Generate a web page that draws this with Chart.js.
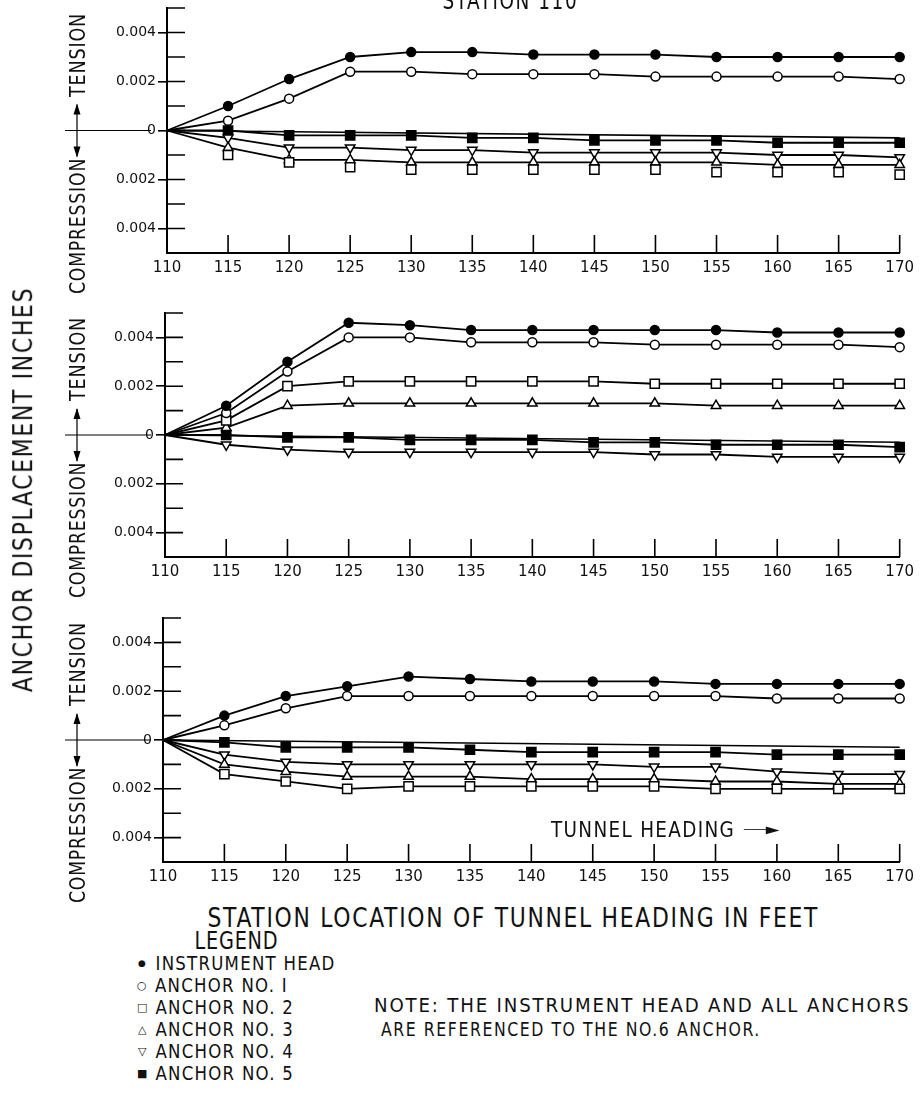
<!DOCTYPE html>
<html>
<head>
<meta charset="utf-8">
<script src="https://cdn.jsdelivr.net/npm/chart.js@4.4.0/dist/chart.umd.min.js"></script>
<style>
  body { margin: 0; background: #fff; width: 920px; height: 1103px; position: relative; overflow: hidden;
         font-family: "DejaVu Sans", sans-serif; color: #111; }
  canvas { position: absolute; left: 0; }
  .t { position: absolute; white-space: nowrap; line-height: 1; }
</style>
</head>
<body>
<script>
// stations along the tunnel (feet)
const stations = [110, 115, 120, 125, 130, 135, 140, 145, 150, 155, 160, 165, 170];

// panel 1
const head1 = [0, 0.0010, 0.0021, 0.0030, 0.0032, 0.0032, 0.0031, 0.0031, 0.0031, 0.0030, 0.0030, 0.0030, 0.0030];
const anc1_1 = [0, 0.0004, 0.0013, 0.0024, 0.0024, 0.0023, 0.0023, 0.0023, 0.0022, 0.0022, 0.0022, 0.0022, 0.0021];
const anc2_1 = [0, -0.0010, -0.0013, -0.0015, -0.0016, -0.0016, -0.0016, -0.0016, -0.0016, -0.0017, -0.0017, -0.0017, -0.0018];
const anc3_1 = [0, -0.0007, -0.0012, -0.0012, -0.0013, -0.0013, -0.0013, -0.0013, -0.0013, -0.0013, -0.0014, -0.0014, -0.0014];
const anc4_1 = [0, -0.0003, -0.0007, -0.0007, -0.0008, -0.0008, -0.0009, -0.0009, -0.0009, -0.0009, -0.0010, -0.0010, -0.0011];
const anc5_1 = [0, 0.0000, -0.0002, -0.0002, -0.0002, -0.0003, -0.0003, -0.0004, -0.0004, -0.0004, -0.0005, -0.0005, -0.0005];

// panel 2
const head2 = [0, 0.0012, 0.0030, 0.0046, 0.0045, 0.0043, 0.0043, 0.0043, 0.0043, 0.0043, 0.0042, 0.0042, 0.0042];
const anc1_2 = [0, 0.0009, 0.0026, 0.0040, 0.0040, 0.0038, 0.0038, 0.0038, 0.0037, 0.0037, 0.0037, 0.0037, 0.0036];
const anc2_2 = [0, 0.0006, 0.0020, 0.0022, 0.0022, 0.0022, 0.0022, 0.0022, 0.0021, 0.0021, 0.0021, 0.0021, 0.0021];
const anc3_2 = [0, 0.0003, 0.0012, 0.0013, 0.0013, 0.0013, 0.0013, 0.0013, 0.0013, 0.0012, 0.0012, 0.0012, 0.0012];
const anc4_2 = [0, -0.0004, -0.0006, -0.0007, -0.0007, -0.0007, -0.0007, -0.0007, -0.0008, -0.0008, -0.0009, -0.0009, -0.0009];
const anc5_2 = [0, 0.0000, -0.0001, -0.0001, -0.0002, -0.0002, -0.0002, -0.0003, -0.0003, -0.0004, -0.0004, -0.0004, -0.0005];

// panel 3
const head3 = [0, 0.0010, 0.0018, 0.0022, 0.0026, 0.0025, 0.0024, 0.0024, 0.0024, 0.0023, 0.0023, 0.0023, 0.0023];
const anc1_3 = [0, 0.0006, 0.0013, 0.0018, 0.0018, 0.0018, 0.0018, 0.0018, 0.0018, 0.0018, 0.0017, 0.0017, 0.0017];
const anc2_3 = [0, -0.0014, -0.0017, -0.0020, -0.0019, -0.0019, -0.0019, -0.0019, -0.0019, -0.0020, -0.0020, -0.0020, -0.0020];
const anc3_3 = [0, -0.0010, -0.0013, -0.0015, -0.0015, -0.0015, -0.0016, -0.0016, -0.0016, -0.0017, -0.0017, -0.0018, -0.0018];
const anc4_3 = [0, -0.0006, -0.0009, -0.0010, -0.0010, -0.0010, -0.0010, -0.0010, -0.0011, -0.0011, -0.0013, -0.0014, -0.0014];
const anc5_3 = [0, -0.0001, -0.0003, -0.0003, -0.0003, -0.0004, -0.0005, -0.0005, -0.0005, -0.0005, -0.0006, -0.0006, -0.0006];

// the plain drafting line just under zero (start / end value)
const baseLine = [[0, -0.0003], [0, -0.0003], [0, -0.0003]];

const legendNames = ['INSTRUMENT HEAD', 'ANCHOR NO. I', 'ANCHOR NO. 2', 'ANCHOR NO. 3', 'ANCHOR NO. 4', 'ANCHOR NO. 5'];
const legendGlyphs = ['\u25CF', '\u25CB', '\u25A1', '\u25B3', '\u25BD', '\u25A0'];

const panels = [
    { top: 8, bottom: 253, left: 167, right: 906, sets: [head1, anc1_1, anc2_1, anc3_1, anc4_1, anc5_1], noLine: [2] },
    { top: 313, bottom: 557, left: 165, right: 905, sets: [head2, anc1_2, anc2_2, anc3_2, anc4_2, anc5_2], noLine: [] },
    { top: 618, bottom: 862, left: 163, right: 903, sets: [head3, anc1_3, anc2_3, anc3_3, anc4_3, anc5_3], noLine: [] }
];

const marks = [
    { style: 'circle', r: 4.5, fill: '#000', rot: 0 },
    { style: 'circle', r: 4.5, fill: '#fff', rot: 0 },
    { style: 'rect', r: 6.5, fill: '#fff', rot: 0 },
    { style: 'triangle', r: 5.5, fill: '#fff', rot: 0 },
    { style: 'triangle', r: 5.5, fill: '#fff', rot: 180 },
    { style: 'rect', r: 6.5, fill: '#000', rot: 0 }
];

// text helper: x is the centre (or left edge when left is set), w squeezes the
// lettering to the narrow drafting look of the original
function text(str, x, y, size, opts) {
    opts = opts || {};
    const d = document.createElement('div');
    d.className = 't';
    d.textContent = str;
    d.style.fontSize = size + 'px';
    if (opts.spacing) d.style.letterSpacing = opts.spacing + 'px';
    if (opts.family) d.style.fontFamily = opts.family;
    document.body.appendChild(d);
    const bw = d.offsetWidth, bh = d.offsetHeight;
    const sx = opts.w ? opts.w / bw : (opts.sx || 1);
    d.style.left = (x - bw / 2) + 'px';
    d.style.top = (y - bh / 2) + 'px';
    let tf = '';
    if (opts.left) tf += 'translateX(' + (bw / 2 - bw * (1 - sx) / 2) + 'px) ';
    if (opts.rot) tf += 'rotate(' + opts.rot + 'deg) ';
    tf += 'scaleX(' + sx + ')';
    d.style.transform = tf;
    return sx;
}

// ticks inside the frame, zero line on the left, little double arrow
const inkPlugin = {
    id: 'ink',
    beforeDatasetsDraw(chart) {
        const { ctx, scales: { x, y } } = chart;
        const y0 = y.getPixelForValue(0);
        ctx.save();
        ctx.strokeStyle = '#000';
        ctx.fillStyle = '#000';
        ctx.lineWidth = 1.6;
        ctx.beginPath();
        y.ticks.forEach(t => {
            if (Math.abs(t.value + 0.005) < 1e-9) return;
            const py = y.getPixelForValue(t.value);
            ctx.moveTo(x.left, py);
            ctx.lineTo(x.left + 18, py);
        });
        x.ticks.forEach(t => {
            if (t.value === 110) return;
            const px = x.getPixelForValue(t.value);
            ctx.moveTo(px, y.bottom);
            ctx.lineTo(px, y.bottom - 18);
        });
        ctx.stroke();
        ctx.lineWidth = 1.2;
        ctx.beginPath();
        ctx.moveTo(65, y0);
        ctx.lineTo(151, y0);
        ctx.moveTo(77, y0 - 26);
        ctx.lineTo(77, y0 + 26);
        ctx.stroke();
        ctx.beginPath();
        ctx.moveTo(77, y0 - 27); ctx.lineTo(73.5, y0 - 16); ctx.lineTo(80.5, y0 - 16); ctx.closePath();
        ctx.moveTo(77, y0 + 27); ctx.lineTo(73.5, y0 + 16); ctx.lineTo(80.5, y0 + 16); ctx.closePath();
        ctx.fill();
        ctx.restore();
    }
};

panels.forEach((p, pi) => {
    const cv = document.createElement('canvas');
    const h = p.bottom - p.top + 12 + 30;
    cv.width = 920;
    cv.height = h;
    cv.style.top = (p.top - 12) + 'px';
    cv.style.width = '920px';
    cv.style.height = h + 'px';
    document.body.appendChild(cv);

    const datasets = p.sets.map((vals, si) => {
        const m = marks[si];
        return {
            label: legendNames[si],
            data: vals.map((v, i) => ({ x: stations[i], y: v })),
            borderColor: '#000',
            borderWidth: 1.8,
            showLine: !p.noLine.includes(si),
            pointStyle: m.style,
            pointRotation: m.rot,
            pointRadius: ctx => ctx.dataIndex === 0 ? 0 : m.r,
            pointBackgroundColor: m.fill,
            pointBorderColor: '#000',
            pointBorderWidth: 1.5,
            tension: 0,
            clip: false
        };
    });
    datasets.push({
        label: 'base',
        data: [{ x: stations[0], y: baseLine[pi][0] }, { x: stations[stations.length - 1], y: baseLine[pi][1] }],
        borderColor: '#000',
        borderWidth: 1.6,
        pointRadius: 0,
        tension: 0,
        clip: false
    });

    new Chart(cv.getContext('2d'), {
        type: 'line',
        data: { datasets: datasets },
        options: {
            responsive: false,
            animation: false,
            events: [],
            layout: { padding: { top: 12, left: 0, right: 920 - p.right, bottom: 0 } },
            plugins: { legend: { display: false }, tooltip: { enabled: false } },
            scales: {
                x: {
                    type: 'linear',
                    min: 110,
                    max: 170,
                    afterFit: s => { s.height = 30; },
                    ticks: { stepSize: 5, padding: 6, color: '#111', font: { family: 'DejaVu Sans', size: 15 } },
                    grid: { drawOnChartArea: false, drawTicks: false },
                    border: { display: true, color: '#000', width: 2 }
                },
                y: {
                    min: -0.005,
                    max: 0.005,
                    afterFit: s => { s.width = p.left; },
                    ticks: {
                        stepSize: 0.001,
                        padding: 2,
                        color: '#111',
                        font: { family: 'DejaVu Sans', size: 14 },
                        callback: v => {
                            const k = Math.round(v * 1000);
                            if (k % 2 !== 0 || Math.abs(k) > 4) return '';
                            return k === 0 ? '0' : (Math.abs(k) / 1000).toFixed(3);
                        }
                    },
                    grid: {
                        drawOnChartArea: false,
                        drawTicks: true,
                        tickLength: 9,
                        lineWidth: 1.6,
                        color: c => {
                            const k = Math.round(c.tick.value * 1000);
                            return (k % 2 === 0 && Math.abs(k) <= 4) ? '#000' : 'rgba(0,0,0,0)';
                        }
                    },
                    border: { display: true, color: '#000', width: 2 }
                }
            }
        },
        plugins: [inkPlugin]
    });

    const y0 = (p.top + p.bottom) / 2;
    text('TENSION', 77, y0 - 76, 22, { rot: -90, spacing: 1, w: 84 });
    text('COMPRESSION', 77, y0 + 95, 22, { rot: -90, spacing: 1, w: 136 });
});

text('STATION 110', 510, 1, 24, { spacing: 2, w: 136 });
text('ANCHOR  DISPLACEMENT  INCHES', 22, 489, 27, { rot: -90, spacing: 2, w: 405 });
text('TUNNEL HEADING', 643, 830, 21, { spacing: 1.5, w: 184 });
text('\u2500\u2500\u25B6', 762, 830, 10, { family: 'DejaVu Sans', w: 36 });
text('STATION LOCATION OF TUNNEL HEADING IN FEET', 513, 918, 26, { spacing: 2, w: 612 });
text('LEGEND', 236, 940, 25, { spacing: 1, w: 84 });
const sx = text(legendNames[0], 155, 963, 20, { left: true, spacing: 1.5, w: 180 });
legendNames.forEach((n, i) => {
    const y = 963 + i * 22;
    text(legendGlyphs[i], 142, y, i === 0 ? 9 : 11);
    if (i > 0) text(n, 155, y, 20, { left: true, spacing: 1.5, sx: sx });
});
text('NOTE: THE INSTRUMENT  HEAD AND ALL ANCHORS', 374, 1005, 20, { left: true, spacing: 2, w: 536 });
text('ARE  REFERENCED  TO  THE  NO.6  ANCHOR.', 381, 1029, 20, { left: true, spacing: 2, w: 380 });
</script>
</body>
</html>
